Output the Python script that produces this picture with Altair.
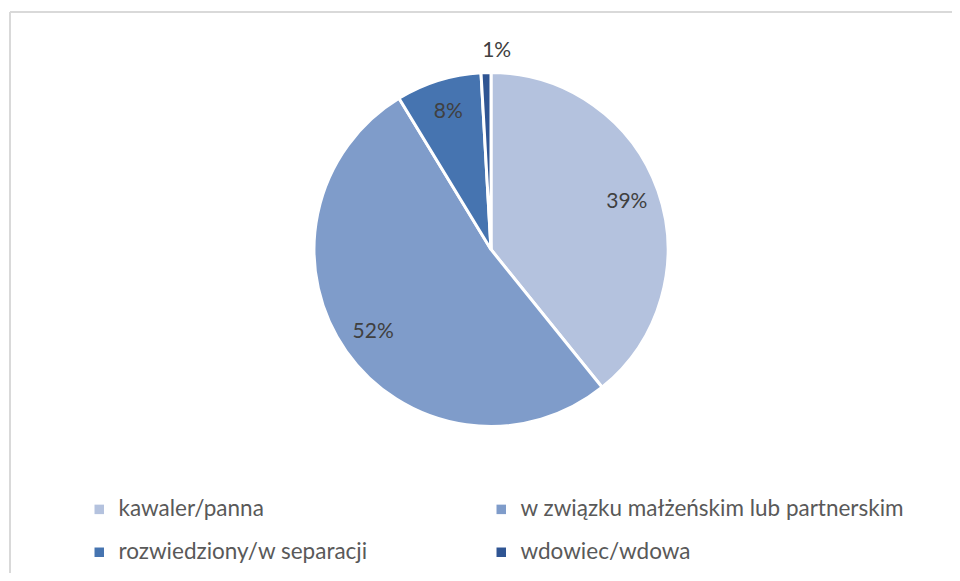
import altair as alt
import pandas as pd

categories = ["kawaler/panna", "w związku małżeńskim lub partnerskim", "rozwiedziony/w separacji", "wdowiec/wdowa"]
values = [39.2, 52.1, 7.8, 0.9]
labels = ["39%", "52%", "8%", "1%"]
colors = ["#b4c2de", "#7f9cca", "#4674b0", "#2f5593"]

df = pd.DataFrame({"kat": categories, "val": values, "lab": labels, "idx": list(range(len(categories)))})

W, H = 942, 561
CX, CY, R = 481, 237.5, 177

base = alt.Chart(df).encode(
    theta=alt.Theta("val:Q", stack=True),
    order=alt.Order("idx:Q"),
)

pie = base.mark_arc(outerRadius=R, stroke="white", strokeWidth=3).encode(
    x=alt.value(CX), y=alt.value(CY),
    color=alt.Color(
        "kat:N",
        scale=alt.Scale(domain=categories, range=colors),
        sort=categories,
        legend=alt.Legend(
            title=None, orient="none", legendX=78, legendY=486, columns=2,
            direction="horizontal",
            symbolType="square", symbolSize=90, symbolStrokeWidth=0,
            labelFontSize=22.5, labelFont="Lato", labelColor="#595959",
            columnPadding=122, rowPadding=20, labelOffset=8, labelLimit=600,
        ),
    ),
)

inner = base.transform_filter(alt.datum.val > 2).mark_text(
    radius=144, fontSize=21, font="Lato", color="#404040"
).encode(x=alt.value(CX), y=alt.value(CY), text="lab:N")

outer = base.transform_filter(alt.datum.val <= 2).mark_text(
    radius=199, fontSize=21, font="Lato", color="#404040"
).encode(x=alt.value(CX), y=alt.value(CY), text="lab:N")

left_border = alt.Chart(df.head(1)).mark_rule(color="#d9d9d9", strokeWidth=2).encode(
    x=alt.value(0), y=alt.value(0), y2=alt.value(H)
)
top_border = alt.Chart(df.head(1)).mark_rule(color="#d9d9d9", strokeWidth=2).encode(
    x=alt.value(0), x2=alt.value(W), y=alt.value(0)
)

chart = alt.layer(left_border, top_border, pie, inner, outer).properties(
    width=W, height=H,
    autosize=alt.AutoSizeParams(type="none"),
    padding={"left": 2, "top": 4, "right": 0, "bottom": 0},
).configure_view(stroke=None).configure(background="white")

chart.save("out.html", embed_options={"renderer": "svg", "actions": False})
